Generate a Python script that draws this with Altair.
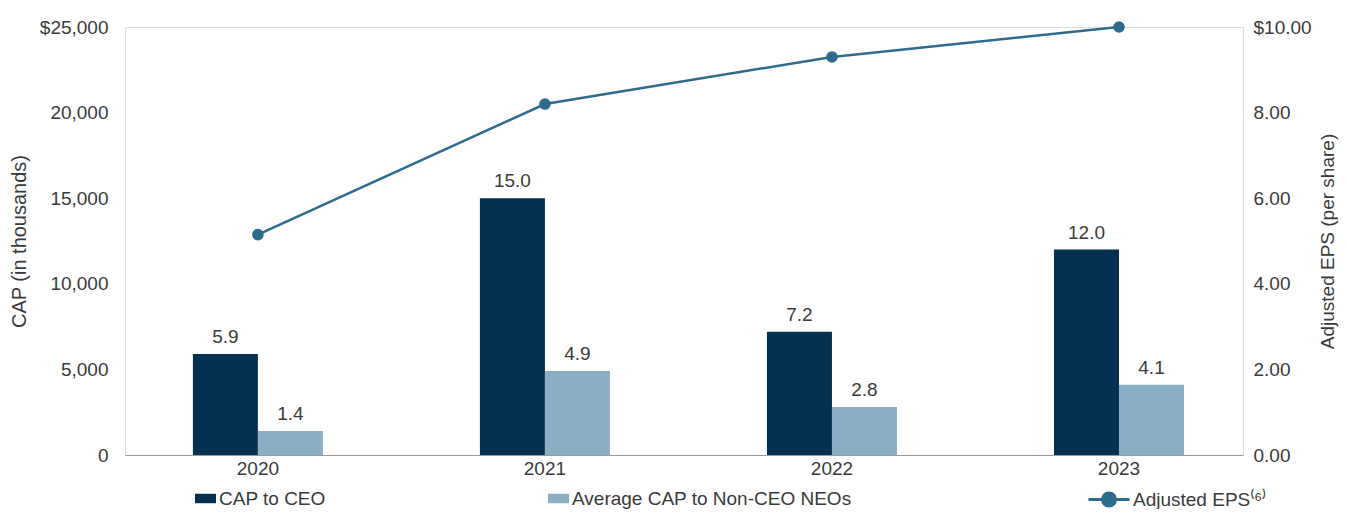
import altair as alt
import pandas as pd

years = ["2020", "2021", "2022", "2023"]
cap_ceo = [5900, 15000, 7200, 12000]
cap_neo = [1400, 4900, 2800, 4100]
eps = [5.15, 8.2, 9.3, 10.0]

S_CEO = "CAP to CEO"
S_NEO = "Average CAP to Non-CEO NEOs"
S_EPS = "Adjusted EPS⁽⁶⁾"

ceo_df = pd.DataFrame({"year": years, "cap": cap_ceo, "series": S_CEO})
neo_df = pd.DataFrame({"year": years, "cap": cap_neo, "series": S_NEO})
eps_df = pd.DataFrame({"year": years, "eps": eps, "series": S_EPS})

FONT = "Liberation Sans"
TXT = "#3a3a3a"
C_CEO = "#06304f"
C_NEO = "#8aaec6"
C_EPS = "#2e6b8d"
FS = 19

x_enc = alt.X(
    "year:N",
    sort=years,
    scale=alt.Scale(paddingInner=0.547, paddingOuter=0.221, align=0.535),
    axis=alt.Axis(title=None, labelAngle=0, labelFontSize=FS, labelColor=TXT,
                  labelFont=FONT, domainColor="#9a9a9a", domainWidth=1.2,
                  ticks=False, labelPadding=4, grid=False),
)
xoff = alt.XOffset("series:N", sort=[S_CEO, S_NEO],
                   scale=alt.Scale(domain=[S_CEO, S_NEO], paddingInner=0, paddingOuter=0))
y_left = alt.Y(
    "cap:Q",
    scale=alt.Scale(domain=[0, 25000], nice=False),
    axis=alt.Axis(title="CAP (in thousands)", values=[0, 5000, 10000, 15000, 20000, 25000],
                  labelExpr="datum.value == 25000 ? '$25,000' : format(datum.value, ',')",
                  grid=False, domain=False, ticks=False, labelPadding=17, titlePadding=10,
                  labelFontSize=FS, titleFontSize=20, titleFontWeight="normal",
                  labelColor=TXT, titleColor=TXT, labelFont=FONT, titleFont=FONT),
)

LEG_Y = 461

def legend(x):
    return alt.Legend(title=None, orient="none", legendX=x, legendY=LEG_Y,
                      symbolType="M-1,-0.45H1V0.45H-1Z", symbolSize=440,
                      symbolStrokeWidth=0, labelFontSize=FS, labelFont=FONT,
                      labelColor=TXT, labelOffset=3, labelLimit=500, padding=0)

ceo_bar = alt.Chart(ceo_df).mark_bar().encode(
    x=x_enc, xOffset=xoff, y=y_left,
    color=alt.Color("series:N", scale=alt.Scale(domain=[S_CEO], range=[C_CEO]), legend=legend(70)),
)
neo_bar = alt.Chart(neo_df).mark_bar().encode(
    x=x_enc, xOffset=xoff, y=y_left,
    color=alt.Color("series:N", scale=alt.Scale(domain=[S_NEO], range=[C_NEO]), legend=legend(423)),
)

def labels(df):
    return alt.Chart(df).transform_calculate(m="datum.cap / 1000").mark_text(
        baseline="bottom", dy=-7, fontSize=FS, font=FONT, color=TXT
    ).encode(x=x_enc, xOffset=xoff, y=y_left, text=alt.Text("m:Q", format=".1f"))

bars_layer = alt.layer(ceo_bar, neo_bar, labels(ceo_df), labels(neo_df)).resolve_scale(color="independent")

y_right = alt.Y(
    "eps:Q",
    scale=alt.Scale(domain=[0, 10], nice=False),
    axis=alt.Axis(orient="right", title="Adjusted EPS (per share)", values=[0, 2, 4, 6, 8, 10],
                  labelExpr="datum.value == 10 ? '$10.00' : format(datum.value, '.2f')",
                  grid=False, domain=False, ticks=False, labelPadding=10, titlePadding=26,
                  titleAngle=270,
                  labelFontSize=FS, titleFontSize=19, titleFontWeight="normal",
                  labelColor=TXT, titleColor=TXT, labelFont=FONT, titleFont=FONT),
)

eps_line = alt.Chart(eps_df).mark_line(strokeWidth=2.5).encode(
    x=x_enc, y=y_right,
    color=alt.Color("series:N", scale=alt.Scale(domain=[S_EPS], range=[C_EPS]),
                    legend=alt.Legend(title=None, orient="none", legendX=962, legendY=LEG_Y,
                                      symbolType="M-1,0L3.1,0M1.7,0A0.65,0.65,0,1,1,0.4,0A0.65,0.65,0,1,1,1.7,0Z",
                                      symbolSize=400, symbolStrokeColor=C_EPS, symbolFillColor=C_EPS,
                                      symbolStrokeWidth=3,
                                      labelFontSize=FS, labelFont=FONT, labelColor=TXT,
                                      labelOffset=23, labelLimit=500, padding=0)),
)
eps_pts = alt.Chart(eps_df).mark_circle(size=135, opacity=1, color=C_EPS).encode(
    x=x_enc, y=y_right,
)
eps_layer = alt.layer(eps_line, eps_pts)

chart = alt.layer(bars_layer, eps_layer).resolve_scale(
    y="independent", color="independent"
).properties(
    width=1118, height=428, autosize="none",
    padding={"left": 117, "top": 19, "right": 96, "bottom": 54},
).configure_view(stroke=None).configure(background="white")

chart.save("out.html", embed_options={"renderer": "svg", "actions": False})
